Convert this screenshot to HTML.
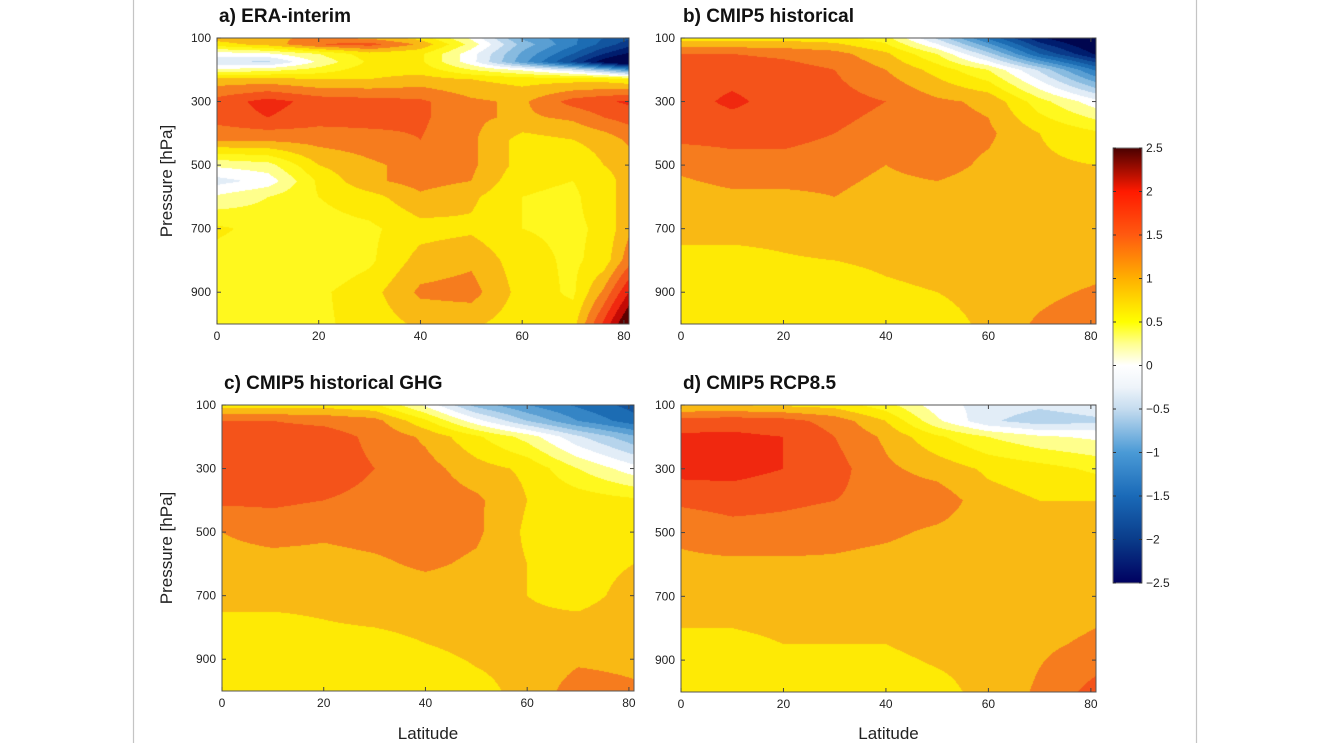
<!DOCTYPE html>
<html><head><meta charset="utf-8">
<style>
html,body{margin:0;padding:0;background:#fff;}
#root{position:relative;width:1322px;height:743px;overflow:hidden;background:#fff;font-family:"Liberation Sans",sans-serif;}
canvas{position:absolute;}
svg{position:absolute;left:0;top:0;}
</style></head>
<body>
<div id="root">
<canvas id="cva" width="412" height="286" style="left:217px;top:38px"></canvas>
<canvas id="cvb" width="415" height="286" style="left:681px;top:38px"></canvas>
<canvas id="cvc" width="412" height="286" style="left:222px;top:405px"></canvas>
<canvas id="cvd" width="415" height="287" style="left:681px;top:405px"></canvas>
<svg id="ov" width="1322" height="743"></svg>
</div>
<script>
// ---- data ----
const latsA=[0,10,20,30,40,50,60,70,76,81];
const presA=[100,120,150,175,200,230,300,350,420,500,550,600,700,800,900,1000];
const valsA=[
[1.1,1.2,1.3,1.2,0.9,0.2,-0.8,-1.2,-1.5,-1.7],
[0.9,1.1,1.5,1.6,1.2,0.4,-0.6,-1.2,-1.6,-1.9],
[0.1,0.2,0.5,0.9,0.8,0.1,-0.8,-1.5,-2.0,-2.3],
[-0.2,-0.3,0.3,0.8,0.8,0.1,-0.9,-1.8,-2.4,-2.8],
[0.3,0.4,0.6,0.9,0.9,0.5,0.2,-0.2,-0.6,-1.0],
[1.1,1.1,1.0,1.0,1.1,1.0,0.9,0.9,0.9,0.8],
[1.6,1.85,1.65,1.6,1.55,1.3,1.2,1.6,1.7,1.8],
[1.6,1.75,1.6,1.6,1.55,1.3,1.2,1.3,1.5,1.6],
[1.3,1.3,1.35,1.4,1.5,1.3,0.9,1.0,1.1,1.3],
[0.3,0.4,1.0,1.2,1.35,1.3,0.9,0.8,1.0,1.1],
[-0.1,0.1,0.8,1.2,1.35,1.25,0.8,0.75,0.9,1.1],
[0.3,0.5,0.75,0.9,1.2,1.05,0.75,0.7,0.9,1.1],
[0.8,0.65,0.65,0.7,0.9,0.95,0.75,0.7,0.8,1.2],
[0.65,0.6,0.55,0.7,1.1,1.2,0.85,0.7,0.85,1.4],
[0.75,0.65,0.7,0.9,1.3,1.35,0.9,0.7,1.3,2.0],
[0.7,0.7,0.7,0.85,1.05,1.05,0.85,0.9,1.8,2.6]];
const latsM=[0,10,20,30,40,50,60,70,81];
const presM=[100,150,200,300,400,500,600,700,850,1000];
const valsB=[
[0.9,0.9,0.9,0.85,0.6,-0.3,-1.3,-2.2,-2.7],
[1.5,1.5,1.45,1.35,1.05,0.5,-0.4,-1.5,-2.3],
[1.65,1.65,1.6,1.5,1.25,0.9,0.5,-0.3,-1.3],
[1.65,1.8,1.65,1.6,1.5,1.3,1.2,0.6,0.1],
[1.6,1.6,1.6,1.5,1.4,1.35,1.3,1.0,0.8],
[1.3,1.4,1.4,1.35,1.25,1.35,1.2,1.05,1.0],
[1.15,1.2,1.2,1.25,1.15,1.15,1.1,1.05,1.05],
[1.05,1.05,1.05,1.1,1.1,1.1,1.1,1.05,1.1],
[0.9,0.9,0.95,0.95,1.0,1.05,1.1,1.1,1.2],
[0.85,0.85,0.85,0.85,0.85,0.9,1.05,1.3,1.5]];
const valsC=[
[0.9,0.9,0.9,0.8,0.2,-0.6,-1.0,-1.3,-1.6],
[1.5,1.5,1.45,1.35,0.8,0.1,-0.5,-1.0,-1.4],
[1.6,1.6,1.6,1.45,1.2,0.8,0.4,-0.2,-0.7],
[1.6,1.65,1.6,1.5,1.35,1.1,0.95,0.5,0.1],
[1.55,1.55,1.5,1.45,1.4,1.3,1.0,0.9,0.8],
[1.25,1.35,1.3,1.35,1.4,1.3,0.95,0.9,0.95],
[1.15,1.15,1.15,1.2,1.3,1.2,1.0,0.95,1.0],
[1.05,1.05,1.05,1.1,1.1,1.1,1.0,0.95,1.05],
[0.9,0.9,0.95,0.95,1.0,1.05,1.05,1.1,1.1],
[0.85,0.85,0.85,0.85,0.85,0.95,1.05,1.4,1.3]];
const valsD=[
[1.0,1.0,0.95,0.9,0.6,0.1,-0.1,-0.2,-0.1],
[1.6,1.65,1.6,1.4,1.0,0.3,-0.2,-0.4,-0.3],
[1.8,1.8,1.75,1.5,1.2,0.8,0.5,0.3,0.2],
[1.85,1.85,1.75,1.6,1.3,1.15,0.95,0.85,0.7],
[1.55,1.6,1.55,1.5,1.4,1.4,1.1,1.0,1.0],
[1.3,1.4,1.4,1.35,1.3,1.2,1.1,1.05,1.05],
[1.2,1.2,1.2,1.2,1.15,1.1,1.1,1.1,1.1],
[1.1,1.1,1.1,1.1,1.1,1.1,1.1,1.1,1.15],
[0.95,0.95,1.0,1.0,1.0,1.05,1.05,1.2,1.3],
[0.9,0.9,0.9,0.9,0.9,0.95,1.05,1.3,1.6]];
const xTicks=[0,20,40,60,80];
const yTicks=[100,300,500,700,900];
const cbTicks=[2.5,2,1.5,1,0.5,0,-0.5,-1,-1.5,-2,-2.5];
const titles=["a) ERA-interim","b) CMIP5 historical","c) CMIP5 historical GHG","d) CMIP5 RCP8.5"];
const levelColors=["#00064f","#001d6e","#0a3a8a","#12559f","#1c6cb3","#3585c5","#5a9fd3","#88bbe0","#b6d4ec","#e2edf7","#ffffff","#ffff8c","#fff81e","#feea05","#f9b914","#f67c1e","#f4531a","#f0280f","#c30a05","#5c0000"];

const LATMAX=81;
const panels=[
 {cv:"cva",L:217,T:38,W:412,H:286,lats:latsA,pres:presA,vals:valsA,title:0,ylab:true,xlab:false,name:"panel-a"},
 {cv:"cvb",L:681,T:38,W:415,H:286,lats:latsM,pres:presM,vals:valsB,title:1,ylab:false,xlab:false,name:"panel-b"},
 {cv:"cvc",L:222,T:405,W:412,H:286,lats:latsM,pres:presM,vals:valsC,title:2,ylab:true,xlab:true,name:"panel-c"},
 {cv:"cvd",L:681,T:405,W:415,H:287,lats:latsM,pres:presM,vals:valsD,title:3,ylab:false,xlab:true,name:"panel-d"}];

function hex(c){return [parseInt(c.substr(1,2),16),parseInt(c.substr(3,2),16),parseInt(c.substr(5,2),16)];}
const rgb=levelColors.map(hex);
function idx(arr,v){let i=0;while(i<arr.length-2&&v>arr[i+1])i++;return i;}
function interp(p,lat,pr){
  const i=idx(p.lats,lat),j=idx(p.pres,pr);
  let tx=(lat-p.lats[i])/(p.lats[i+1]-p.lats[i]);tx=Math.max(0,Math.min(1,tx));
  let ty=(pr-p.pres[j])/(p.pres[j+1]-p.pres[j]);ty=Math.max(0,Math.min(1,ty));
  const v=p.vals;
  return v[j][i]*(1-tx)*(1-ty)+v[j][i+1]*tx*(1-ty)+v[j+1][i]*(1-tx)*ty+v[j+1][i+1]*tx*ty;
}
panels.forEach(p=>{
  const c=document.getElementById(p.cv),ctx=c.getContext('2d');
  const im=ctx.createImageData(p.W,p.H);
  for(let y=0;y<p.H;y++){const pr=100+(y+0.5)/p.H*900;
    for(let x=0;x<p.W;x++){const lat=(x+0.5)/p.W*LATMAX;
      const v=interp(p,lat,pr);
      let k=Math.floor((v+2.5)/0.25);k=Math.max(0,Math.min(19,k));
      const o=(y*p.W+x)*4,col=rgb[k];
      im.data[o]=col[0];im.data[o+1]=col[1];im.data[o+2]=col[2];im.data[o+3]=255;}}
  ctx.putImageData(im,0,0);
});

const NS="http://www.w3.org/2000/svg",ov=document.getElementById('ov');
function el(tag,attrs,parent){const e=document.createElementNS(NS,tag);for(const k in attrs)e.setAttribute(k,attrs[k]);(parent||ov).appendChild(e);return e;}
function txt(s,attrs,parent){const e=el('text',attrs,parent);e.textContent=s;return e;}

const bl=el('line',{x1:133.5,y1:0,x2:133.5,y2:743,stroke:'#c4c4c4','stroke-width':1.2});


const br=el('line',{x1:1196.5,y1:0,x2:1196.5,y2:743,stroke:'#c4c4c4','stroke-width':1.2});



panels.forEach(p=>{
  const g=el('g',{});
  
  
  const xs=v=>p.L+v/LATMAX*p.W, ys=v=>p.T+(v-100)/900*p.H;
  el('rect',{x:p.L,y:p.T,width:p.W,height:p.H,fill:'none',stroke:'#555','stroke-width':1},g);
  xTicks.forEach(t=>{const x=xs(t);
    el('line',{x1:x,y1:p.T+p.H,x2:x,y2:p.T+p.H-4,stroke:'#444','stroke-width':1},g);
    el('line',{x1:x,y1:p.T,x2:x,y2:p.T+4,stroke:'#444','stroke-width':1},g);
    const t1=txt(String(t),{x:x,y:p.T+p.H+16,'font-size':12,'text-anchor':'middle',fill:'#222'},g);
    
    
  });
  yTicks.forEach(t=>{const y=ys(t);
    el('line',{x1:p.L,y1:y,x2:p.L+4,y2:y,stroke:'#444','stroke-width':1},g);
    el('line',{x1:p.L+p.W,y1:y,x2:p.L+p.W-4,y2:y,stroke:'#444','stroke-width':1},g);
    const t2=txt(String(t),{x:p.L-6,y:y+4,'font-size':12,'text-anchor':'end',fill:'#222'},g);
    
    
  });
  const tt=txt(titles[p.title],{x:p.L+2,y:p.T-16,'font-size':19,'font-weight':'bold',fill:'#111'},g);
  
  
  if(p.ylab){const cy=p.T+p.H/2;
    const yl=txt('Pressure [hPa]',{x:172,y:cy,'font-size':17,'text-anchor':'middle',fill:'#222',transform:'rotate(-90 172 '+cy+')'},g);
    
    }
  if(p.xlab){const xl=txt('Latitude',{x:p.L+p.W/2,y:739,'font-size':17,'text-anchor':'middle',fill:'#222'},g);
    
    }
});

const cb=el('g',{});


const CBL=1113,CBT=148,CBW=29,CBH=435;
const defs=el('defs',{},cb);
const grad=el('linearGradient',{id:'cbg',x1:0,y1:0,x2:0,y2:1},defs);
const stops=[[0,'#4a0000'],[0.1,'#ff1a00'],[0.2,'#ff5a10'],[0.3,'#ffb000'],[0.35,'#ffd800'],[0.4,'#ffff00'],[0.45,'#ffff90'],[0.5,'#ffffff'],[0.55,'#eef4fa'],[0.6,'#c5dcef'],[0.7,'#4a9ad6'],[0.8,'#1a6ab8'],[0.9,'#0a3c8a'],[1,'#000060']];
stops.forEach(s=>el('stop',{offset:s[0],'stop-color':s[1]},grad));
el('rect',{x:CBL,y:CBT,width:CBW,height:CBH,fill:'url(#cbg)',stroke:'#777','stroke-width':1},cb);
cbTicks.forEach(t=>{const y=CBT+(2.5-t)/5*CBH;
  el('line',{x1:CBL,y1:y,x2:CBL+3,y2:y,stroke:'#333','stroke-width':1},cb);
  el('line',{x1:CBL+CBW,y1:y,x2:CBL+CBW-3,y2:y,stroke:'#333','stroke-width':1},cb);
  const s=(t<0?'\u2212'+String(-t):String(t));
  const ct=txt(s,{x:CBL+CBW+4,y:y+4,'font-size':12,fill:'#222'},cb);
  
  
});
</script>
</body></html>
